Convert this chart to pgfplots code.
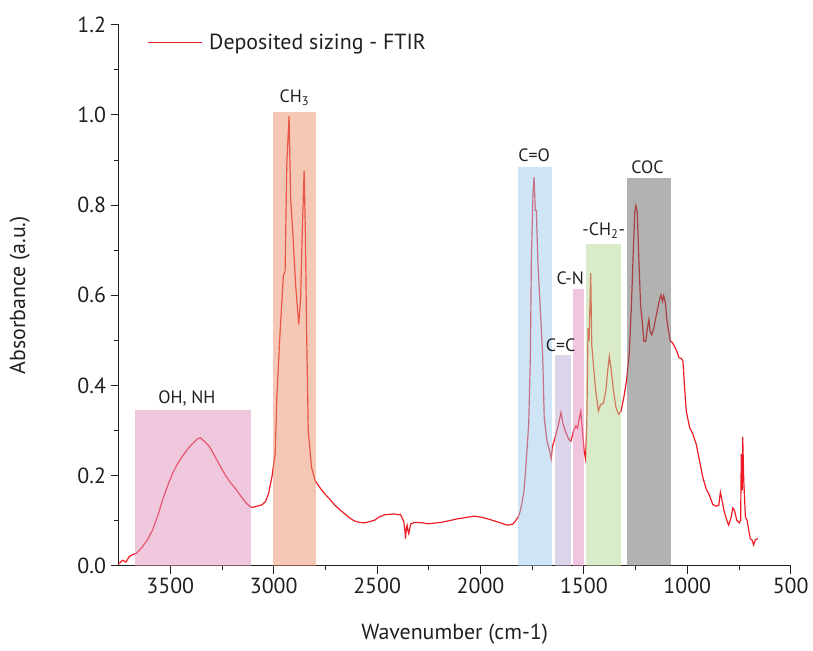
\documentclass[border=0pt]{standalone}
\usepackage{fontspec}
\setmainfont{PT Sans}
\usepackage{pgfplots}
\pgfplotsset{compat=1.18}
\definecolor{txt}{RGB}{35,31,32}
\definecolor{specred}{RGB}{237,28,36}
\definecolor{bOH}{RGB}{225,145,189}
\definecolor{bCH}{RGB}{233,145,105}
\definecolor{bCO}{RGB}{159,201,233}
\definecolor{bCC}{RGB}{185,169,209}
\definecolor{bCN}{RGB}{225,141,189}
\definecolor{bCHt}{RGB}{181,215,149}
\definecolor{bCOC}{RGB}{101,101,101}
\begin{document}
\begin{tikzpicture}
\begin{axis}[
  scale only axis, width=507pt, height=408pt,
  x dir=reverse, xmin=500, xmax=3750, ymin=0, ymax=1.2,
  axis lines=left, axis line style={-, line width=0.75pt, color=txt},
  tick align=outside, tick style={line width=0.75pt, color=txt},
  major tick length=6pt, minor tick length=3.5pt,
  xtick={3500,3000,2500,2000,1500,1000,500},
  ytick={0,0.2,0.4,0.6,0.8,1.0,1.2},
  minor x tick num=1, minor y tick num=1,
  /pgf/number format/assume math mode=true,
  xticklabel style={/pgf/number format/1000 sep={}},
  yticklabel style={/pgf/number format/.cd, fixed, fixed zerofill, precision=1},
  ticklabel style={font=\fontsize{16.5}{18}\selectfont, color=txt},
  label style={font=\fontsize{16.5}{18}\selectfont, color=txt},
  xlabel={Wavenumber (cm-1)}, ylabel={Absorbance (a.u.)},
  x label style={at={(axis description cs:0.5,-0.127)}, anchor=center},
  y label style={at={(axis description cs:-0.147,0.5)}, anchor=center},
  legend style={at={(axis description cs:0.036,0.967)}, anchor=west, draw=none, fill=none,
     font=\fontsize{16.5}{18}\selectfont, text=txt},
  legend cell align=left,
  legend image code/.code={\draw[#1] (0pt,0pt) -- (41pt,0pt); \path (44pt,0pt);},
  clip=false,
]
\addplot[specred, line width=0.9pt] coordinates {
(3750,0.004)(3730,0.012)(3715,0.008)(3699,0.020)(3685,0.024)(3666,0.027)(3650,0.034)(3635,0.042)
(3610,0.058)(3586,0.079)(3560,0.112)(3538,0.145)(3515,0.175)(3490,0.204)(3470,0.222)(3450,0.237)
(3430,0.250)(3410,0.262)(3390,0.272)(3370,0.281)(3355,0.284)(3338,0.277)(3314,0.266)(3300,0.256)
(3282,0.240)(3260,0.222)(3233,0.200)(3210,0.185)(3185,0.171)(3160,0.155)(3137,0.141)(3120,0.133)
(3105,0.129)(3080,0.132)(3057,0.135)(3040,0.142)(3025,0.160)(3009,0.196)(2993,0.248)(2985,0.373)
(2969,0.520)(2953,0.645)(2945,0.652)(2937,0.887)(2926,0.998)(2918,0.814)(2908,0.740)(2894,0.623)
(2879,0.535)(2870,0.593)(2862,0.741)(2853,0.876)(2847,0.741)(2841,0.520)(2833,0.299)(2817,0.218)
(2800,0.189)(2775,0.172)(2752,0.159)(2730,0.148)(2704,0.134)(2680,0.124)(2656,0.115)(2630,0.105)
(2608,0.099)(2585,0.096)(2560,0.095)(2535,0.098)(2512,0.101)(2490,0.108)(2464,0.113)(2440,0.114)
(2416,0.115)(2400,0.113)(2387,0.114)(2375,0.102)(2371,0.097)(2365,0.075)(2363,0.060)(2358,0.085)
(2355,0.090)(2350,0.075)(2347,0.071)(2340,0.088)(2336,0.093)(2320,0.096)(2304,0.096)(2280,0.095)
(2256,0.093)(2230,0.094)(2192,0.096)(2150,0.100)(2111,0.104)(2070,0.107)(2031,0.110)(1990,0.107)
(1951,0.102)(1910,0.096)(1871,0.090)(1845,0.092)(1831,0.099)(1815,0.110)(1807,0.123)(1799,0.140)
(1790,0.165)(1783,0.204)(1767,0.314)(1759,0.461)(1754,0.682)(1746,0.829)(1741,0.862)(1735,0.788)
(1730,0.788)(1722,0.667)(1711,0.571)(1699,0.461)(1692,0.329)(1679,0.277)(1666,0.255)(1658,0.237)
(1653,0.263)(1639,0.285)(1626,0.307)(1611,0.340)(1601,0.314)(1590,0.299)(1574,0.281)(1563,0.276)
(1550,0.299)(1539,0.310)(1531,0.305)(1523,0.325)(1515,0.343)(1507,0.299)(1499,0.255)(1492,0.237)
(1486,0.314)(1480,0.527)(1475,0.498)(1467,0.649)(1462,0.490)(1454,0.446)(1443,0.388)(1430,0.343)
(1419,0.358)(1406,0.360)(1394,0.388)(1385,0.432)(1377,0.465)(1369,0.439)(1357,0.388)(1345,0.351)
(1332,0.336)(1321,0.342)(1307,0.373)(1294,0.410)(1281,0.468)(1270,0.579)(1262,0.689)(1254,0.785)
(1249,0.799)(1242,0.785)(1235,0.689)(1226,0.579)(1218,0.542)(1210,0.498)(1201,0.498)(1193,0.527)
(1186,0.546)(1180,0.520)(1172,0.512)(1162,0.527)(1153,0.549)(1143,0.571)(1133,0.593)(1127,0.601)
(1120,0.586)(1114,0.599)(1106,0.582)(1098,0.542)(1090,0.520)(1082,0.498)(1074,0.496)(1066,0.490)
(1058,0.483)(1048,0.472)(1040,0.461)(1029,0.460)(1021,0.454)(1013,0.395)(1005,0.343)(989,0.307)
(973,0.292)(957,0.270)(941,0.233)(925,0.196)(909,0.171)(893,0.156)(877,0.136)(861,0.132)
(848,0.134)(840,0.163)(832,0.145)(821,0.119)(809,0.101)(800,0.090)(788,0.108)(780,0.128)
(772,0.123)(761,0.101)(749,0.095)(742,0.101)(739,0.248)(734,0.167)(732,0.285)(727,0.189)
(719,0.108)(711,0.101)(703,0.079)(695,0.060)(687,0.057)(679,0.046)(671,0.058)(658,0.060)
};
\addlegendentry{Deposited sizing - FTIR}
\addplot[forget plot, draw=none, fill=bOH, fill opacity=0.5] coordinates {(3670,0)(3670,0.346)(3110,0.346)(3110,0)} -- cycle;
\addplot[forget plot, draw=none, fill=bCH, fill opacity=0.5] coordinates {(3003,0)(3003,1.006)(2796,1.006)(2796,0)} -- cycle;
\addplot[forget plot, draw=none, fill=bCO, fill opacity=0.5] coordinates {(1820,0)(1820,0.885)(1656,0.885)(1656,0)} -- cycle;
\addplot[forget plot, draw=none, fill=bCC, fill opacity=0.5] coordinates {(1639,0)(1639,0.468)(1564,0.468)(1564,0)} -- cycle;
\addplot[forget plot, draw=none, fill=bCN, fill opacity=0.5] coordinates {(1551,0)(1551,0.615)(1500,0.615)(1500,0)} -- cycle;
\addplot[forget plot, draw=none, fill=bCHt, fill opacity=0.5] coordinates {(1490,0)(1490,0.713)(1319,0.713)(1319,0)} -- cycle;
\addplot[forget plot, draw=none, fill=bCOC, fill opacity=0.5] coordinates {(1291,0)(1291,0.860)(1080,0.860)(1080,0)} -- cycle;
\begin{scope}[every node/.style={font=\fontsize{13.5}{15}\selectfont, text=txt, anchor=base, inner sep=0pt}]
\node at (axis cs:3420,0.360) {OH, NH};
\node at (axis cs:2900,1.027) {CH\textsubscript{3}};
\node at (axis cs:1741,0.896) {C=O};
\node at (axis cs:1613,0.476) {C=C};
\node at (axis cs:1566,0.625) {C-N};
\node at (axis cs:1404,0.732) {-CH\textsubscript{2}-};
\node at (axis cs:1193,0.871) {COC};
\end{scope}
\end{axis}
\path ([xshift=-89.5pt,yshift=-63.75pt]current axis.south west) rectangle ([xshift=13.5pt,yshift=18.75pt]current axis.north east);
\end{tikzpicture}
\end{document}
